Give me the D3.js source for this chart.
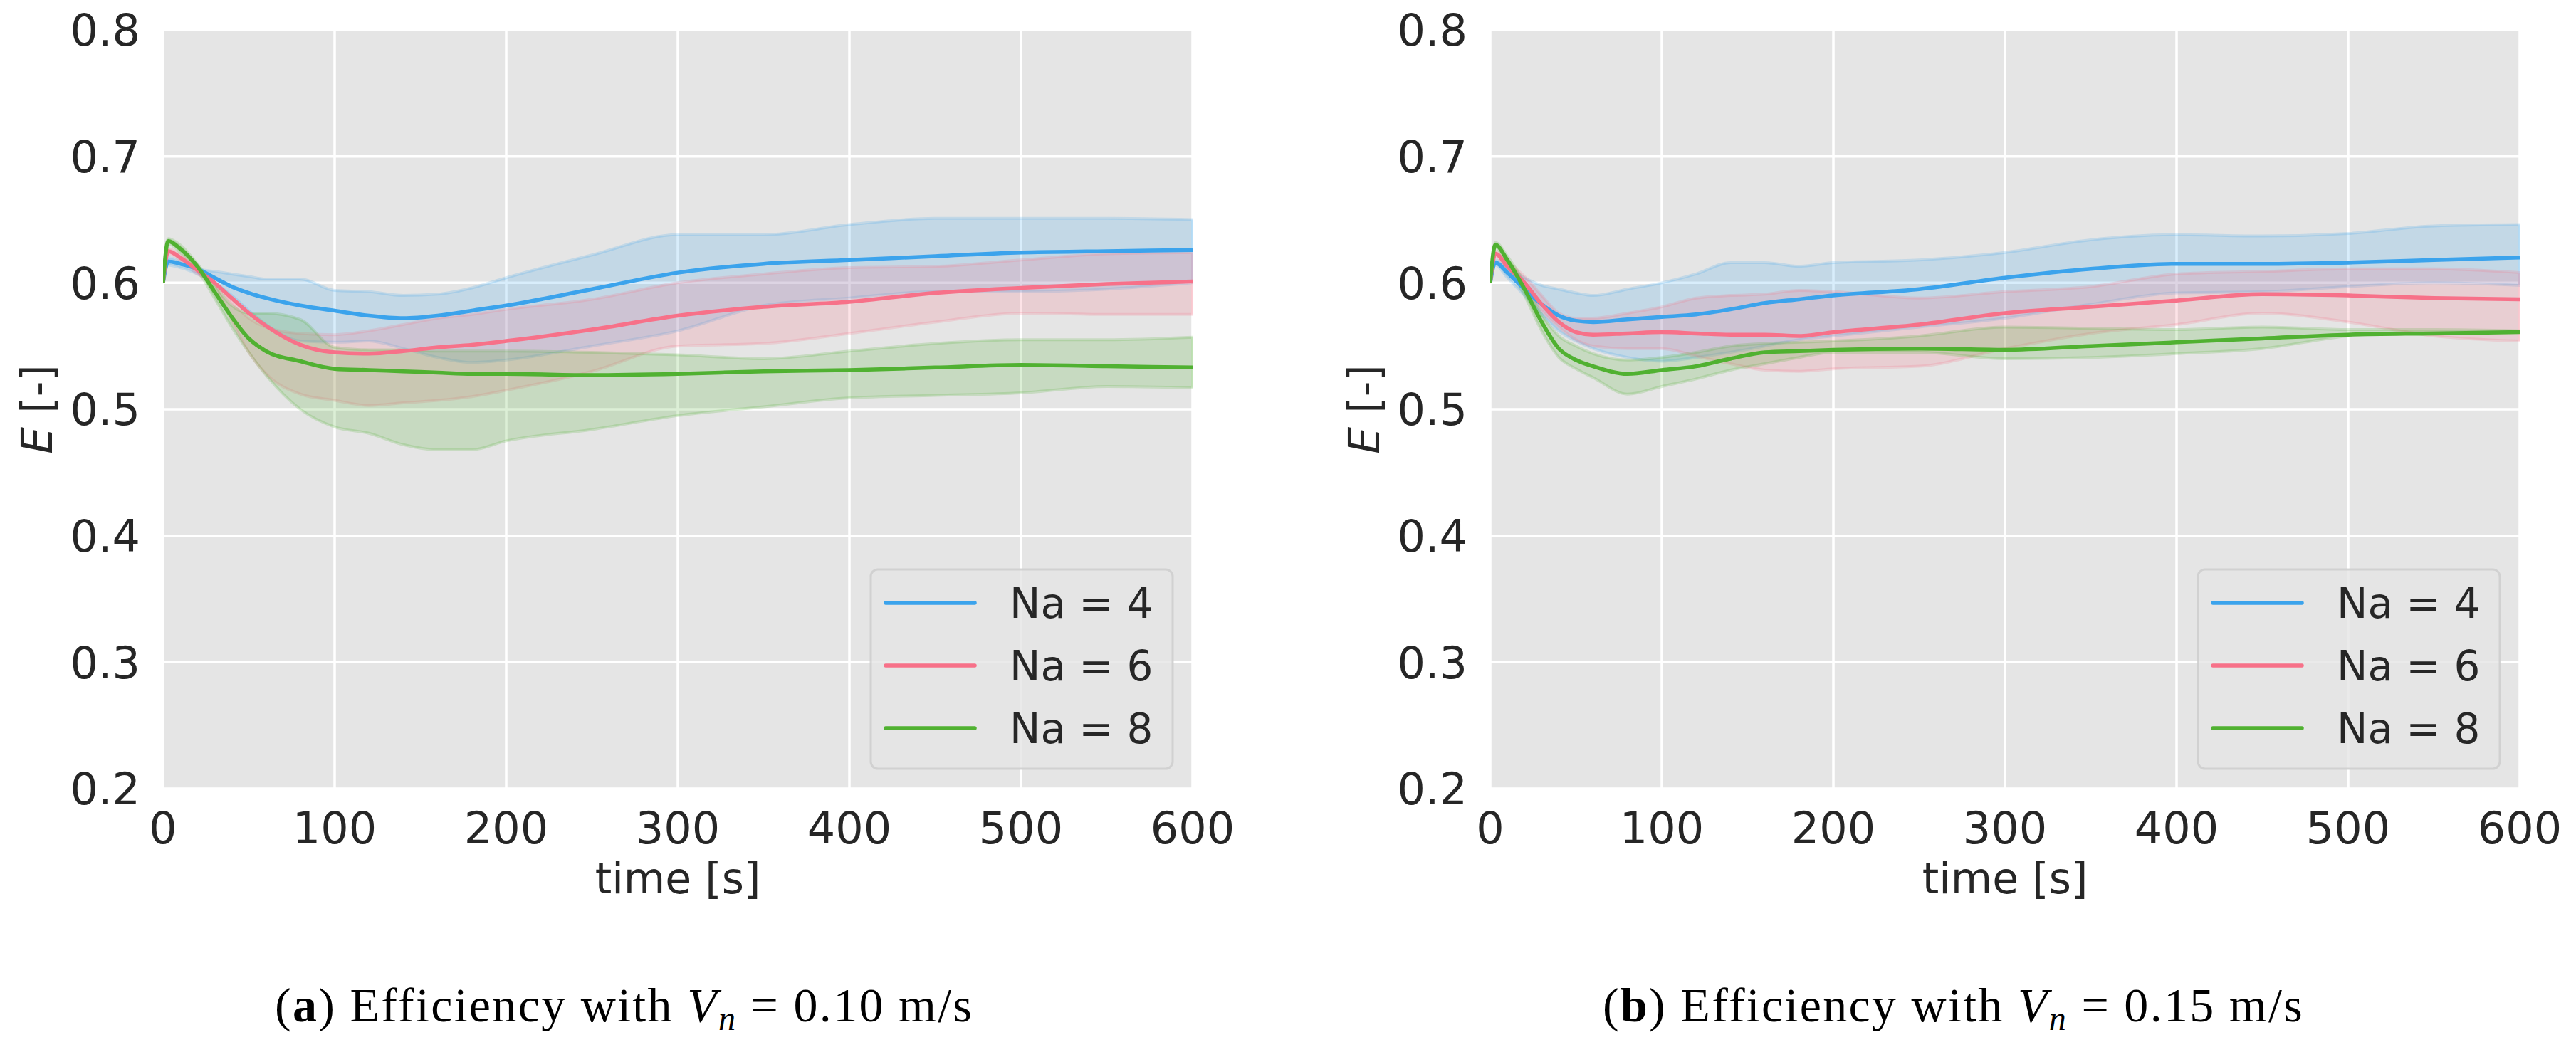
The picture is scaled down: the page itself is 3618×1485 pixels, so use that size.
<!DOCTYPE html>
<html>
  <head>
    <title>Efficiency over time</title>
    <script src="https://d3js.org/d3.v7.min.js"></script>
    <style>
      body { margin: 0; background: #fff; }
      text { font-family: "DejaVu Sans", sans-serif; fill: #262626; }
      .caption { font-family: "Liberation Serif", "DejaVu Serif", serif; fill: #000; }
    </style>
  </head>
  <body>
    <script>
      // Sample times (s), shared by both panels
      const time = [0, 3, 10, 20, 30, 40, 50, 60, 80, 100, 120, 140, 160, 180, 200, 250, 300, 350, 400, 450, 500, 550, 600];

      // Panel (a): Vn = 0.10 m/s
      const na4MeanA = [0.600, 0.617, 0.615, 0.611, 0.604, 0.597, 0.592, 0.588, 0.582, 0.578, 0.574, 0.572, 0.574, 0.578, 0.582, 0.595, 0.608, 0.615, 0.618, 0.621, 0.624, 0.625, 0.626];
      const na4HighA = [0.600, 0.620, 0.617, 0.611, 0.609, 0.607, 0.605, 0.603, 0.603, 0.594, 0.593, 0.590, 0.591, 0.596, 0.604, 0.622, 0.638, 0.638, 0.646, 0.651, 0.651, 0.651, 0.650];
      const na4LowA  = [0.600, 0.614, 0.612, 0.607, 0.600, 0.590, 0.578, 0.567, 0.554, 0.553, 0.554, 0.548, 0.541, 0.537, 0.539, 0.550, 0.562, 0.582, 0.588, 0.593, 0.593, 0.595, 0.600];
      const na6MeanA = [0.600, 0.625, 0.620, 0.610, 0.600, 0.588, 0.576, 0.566, 0.551, 0.545, 0.544, 0.546, 0.549, 0.551, 0.554, 0.563, 0.574, 0.581, 0.585, 0.592, 0.596, 0.599, 0.601];
      const na6HighA = [0.600, 0.627, 0.622, 0.612, 0.600, 0.585, 0.572, 0.565, 0.560, 0.559, 0.562, 0.567, 0.572, 0.575, 0.579, 0.587, 0.600, 0.607, 0.612, 0.613, 0.618, 0.623, 0.624];
      const na6LowA  = [0.600, 0.623, 0.618, 0.607, 0.598, 0.570, 0.545, 0.528, 0.512, 0.507, 0.503, 0.505, 0.507, 0.510, 0.515, 0.530, 0.550, 0.552, 0.560, 0.569, 0.576, 0.575, 0.575];
      const na8MeanA = [0.600, 0.633, 0.627, 0.613, 0.593, 0.573, 0.556, 0.546, 0.538, 0.532, 0.531, 0.530, 0.529, 0.528, 0.528, 0.527, 0.528, 0.530, 0.531, 0.533, 0.535, 0.534, 0.533];
      const na8HighA = [0.600, 0.635, 0.630, 0.615, 0.598, 0.582, 0.576, 0.576, 0.571, 0.549, 0.547, 0.547, 0.546, 0.546, 0.546, 0.545, 0.543, 0.540, 0.546, 0.552, 0.555, 0.555, 0.557];
      const na8LowA  = [0.600, 0.631, 0.624, 0.610, 0.588, 0.565, 0.545, 0.527, 0.500, 0.486, 0.481, 0.472, 0.468, 0.468, 0.475, 0.484, 0.495, 0.502, 0.509, 0.511, 0.513, 0.518, 0.517];

      // Panel (b): Vn = 0.15 m/s
      const na4MeanB = [0.600, 0.616, 0.608, 0.595, 0.583, 0.574, 0.570, 0.569, 0.571, 0.573, 0.575, 0.579, 0.584, 0.587, 0.590, 0.595, 0.604, 0.611, 0.615, 0.615, 0.616, 0.618, 0.620];
      const na4HighB = [0.600, 0.618, 0.612, 0.604, 0.598, 0.595, 0.592, 0.590, 0.595, 0.600, 0.607, 0.616, 0.616, 0.613, 0.616, 0.618, 0.624, 0.634, 0.638, 0.637, 0.639, 0.645, 0.646];
      const na4LowB  = [0.600, 0.614, 0.604, 0.590, 0.575, 0.562, 0.554, 0.548, 0.541, 0.538, 0.541, 0.545, 0.550, 0.555, 0.558, 0.565, 0.572, 0.583, 0.592, 0.593, 0.597, 0.600, 0.598];
      const na6MeanB = [0.600, 0.623, 0.613, 0.600, 0.583, 0.569, 0.561, 0.559, 0.560, 0.561, 0.560, 0.559, 0.559, 0.558, 0.561, 0.567, 0.576, 0.581, 0.586, 0.591, 0.590, 0.588, 0.587];
      const na6HighB = [0.600, 0.625, 0.617, 0.605, 0.590, 0.576, 0.572, 0.572, 0.576, 0.581, 0.588, 0.590, 0.591, 0.594, 0.593, 0.588, 0.593, 0.597, 0.607, 0.609, 0.611, 0.611, 0.608];
      const na6LowB  = [0.600, 0.621, 0.610, 0.595, 0.578, 0.565, 0.555, 0.550, 0.548, 0.548, 0.542, 0.536, 0.531, 0.530, 0.532, 0.534, 0.548, 0.560, 0.567, 0.576, 0.569, 0.558, 0.554];
      const na8MeanB = [0.600, 0.630, 0.618, 0.595, 0.569, 0.548, 0.539, 0.534, 0.528, 0.531, 0.534, 0.540, 0.545, 0.546, 0.547, 0.548, 0.547, 0.550, 0.553, 0.556, 0.559, 0.560, 0.561];
      const na8HighB = [0.600, 0.632, 0.621, 0.600, 0.575, 0.558, 0.550, 0.544, 0.539, 0.541, 0.545, 0.550, 0.552, 0.553, 0.554, 0.558, 0.565, 0.564, 0.563, 0.565, 0.563, 0.563, 0.562];
      const na8LowB  = [0.600, 0.628, 0.614, 0.590, 0.562, 0.541, 0.532, 0.525, 0.512, 0.518, 0.524, 0.531, 0.536, 0.541, 0.545, 0.545, 0.540, 0.541, 0.544, 0.548, 0.558, 0.561, 0.561];

      const seriesLabels = ["Na = 4", "Na = 6", "Na = 8"];
      const colors = ["#3ba3ec", "#f77189", "#50b131"];
      const xTicks = [0, 100, 200, 300, 400, 500, 600];
      const yTicks = [0.2, 0.3, 0.4, 0.5, 0.6, 0.7, 0.8];

      const width = 3618;
      const height = 1485;
      const plotTop = 42, plotBottom = 1108, plotW = 1446;

      const svg = d3.select("body")
        .append("svg")
        .attr("width", width)
        .attr("height", height);

      const y = d3.scaleLinear().domain([0.2, 0.8]).range([plotBottom, plotTop]);

      function drawPanel(left, means, lows, highs, captionValue, captionLetter, captionX) {
        const x = d3.scaleLinear().domain([0, 600]).range([left, left + plotW]);
        const g = svg.append("g");

        g.append("rect")
          .attr("x", left).attr("y", plotTop)
          .attr("width", plotW).attr("height", plotBottom - plotTop)
          .attr("fill", "#e5e5e5");

        // grid
        g.selectAll(".gx").data(xTicks).enter().append("line")
          .attr("x1", d => x(d)).attr("x2", d => x(d))
          .attr("y1", plotTop).attr("y2", plotBottom)
          .attr("stroke", "#fff").attr("stroke-width", 3.5);
        g.selectAll(".gy").data(yTicks).enter().append("line")
          .attr("x1", left).attr("x2", left + plotW)
          .attr("y1", d => y(d)).attr("y2", d => y(d))
          .attr("stroke", "#fff").attr("stroke-width", 3.5);

        // tick labels
        g.selectAll(".tx").data(xTicks).enter().append("text")
          .attr("x", d => x(d)).attr("y", 1185)
          .attr("text-anchor", "middle")
          .attr("font-size", 62)
          .text(d => d);
        g.selectAll(".ty").data(yTicks).enter().append("text")
          .attr("x", left - 32).attr("y", d => y(d))
          .attr("dy", "0.36em")
          .attr("text-anchor", "end")
          .attr("font-size", 62)
          .text(d => d.toFixed(1));

        g.append("text")
          .attr("x", left + plotW / 2).attr("y", 1255)
          .attr("text-anchor", "middle")
          .attr("font-size", 60)
          .text("time [s]");

        const yl = g.append("text")
          .attr("transform", `translate(${left - 156}, ${(plotTop + plotBottom) / 2}) rotate(-90)`)
          .attr("text-anchor", "middle")
          .attr("font-size", 60);
        yl.append("tspan").attr("font-style", "italic").text("E");
        yl.append("tspan").text(" [-]");

        const clip = "clip" + captionLetter;
        svg.append("clipPath").attr("id", clip)
          .append("rect").attr("x", left).attr("y", plotTop)
          .attr("width", plotW).attr("height", plotBottom - plotTop);
        const plot = g.append("g").attr("clip-path", `url(#${clip})`);

        const area = d3.area()
          .x(d => x(d.t)).y0(d => y(d.lo)).y1(d => y(d.hi))
          .curve(d3.curveMonotoneX);
        const line = d3.line()
          .x(d => x(d.t)).y(d => y(d.v))
          .curve(d3.curveMonotoneX);

        means.forEach((m, i) => {
          const band = time.map((t, j) => ({ t: t, lo: lows[i][j], hi: highs[i][j] }));
          plot.append("path")
            .attr("d", area(band))
            .attr("fill", colors[i]).attr("fill-opacity", 0.2)
            .attr("stroke", colors[i]).attr("stroke-opacity", 0.2)
            .attr("stroke-width", 4);
        });
        means.forEach((m, i) => {
          const pts = time.map((t, j) => ({ t: t, v: m[j] }));
          plot.append("path")
            .attr("d", line(pts))
            .attr("fill", "none")
            .attr("stroke", colors[i])
            .attr("stroke-width", 5.5)
            .attr("stroke-linejoin", "round");
        });

        // legend
        const lx = left + plotW - 28 - 424;
        const legend = g.append("g").attr("transform", `translate(${lx}, 800)`);
        legend.append("rect")
          .attr("width", 424).attr("height", 280)
          .attr("rx", 10)
          .attr("fill", "#e5e5e5").attr("fill-opacity", 0.8)
          .attr("stroke", "#cccccc").attr("stroke-opacity", 0.8)
          .attr("stroke-width", 3);
        seriesLabels.forEach((s, i) => {
          const ly = 47 + i * 88;
          legend.append("line")
            .attr("x1", 21).attr("x2", 146)
            .attr("y1", ly).attr("y2", ly)
            .attr("stroke", colors[i]).attr("stroke-width", 5.5)
            .attr("stroke-linecap", "round");
          legend.append("text")
            .attr("x", 195).attr("y", ly + 21)
            .attr("font-size", 58)
            .text(s);
        });

        // caption
        const cap = svg.append("text")
          .attr("class", "caption")
          .attr("x", captionX).attr("y", 1435)
          .attr("font-size", 68)
          .attr("letter-spacing", 2.3);
        cap.append("tspan").text("(");
        cap.append("tspan").attr("font-weight", "bold").text(captionLetter);
        cap.append("tspan").text(") Efficiency with ");
        cap.append("tspan").attr("font-style", "italic").text("V");
        cap.append("tspan").attr("font-style", "italic").attr("font-size", 48).attr("dy", 12).text("n");
        cap.append("tspan").attr("dy", -12).text(" = " + captionValue + " m/s");
      }

      drawPanel(229,
        [na4MeanA, na6MeanA, na8MeanA],
        [na4LowA, na6LowA, na8LowA],
        [na4HighA, na6HighA, na8HighA],
        "0.10", "a", 386);
      drawPanel(2093,
        [na4MeanB, na6MeanB, na8MeanB],
        [na4LowB, na6LowB, na8LowB],
        [na4HighB, na6HighB, na8HighB],
        "0.15", "b", 2251);
    </script>
  </body>
</html>
